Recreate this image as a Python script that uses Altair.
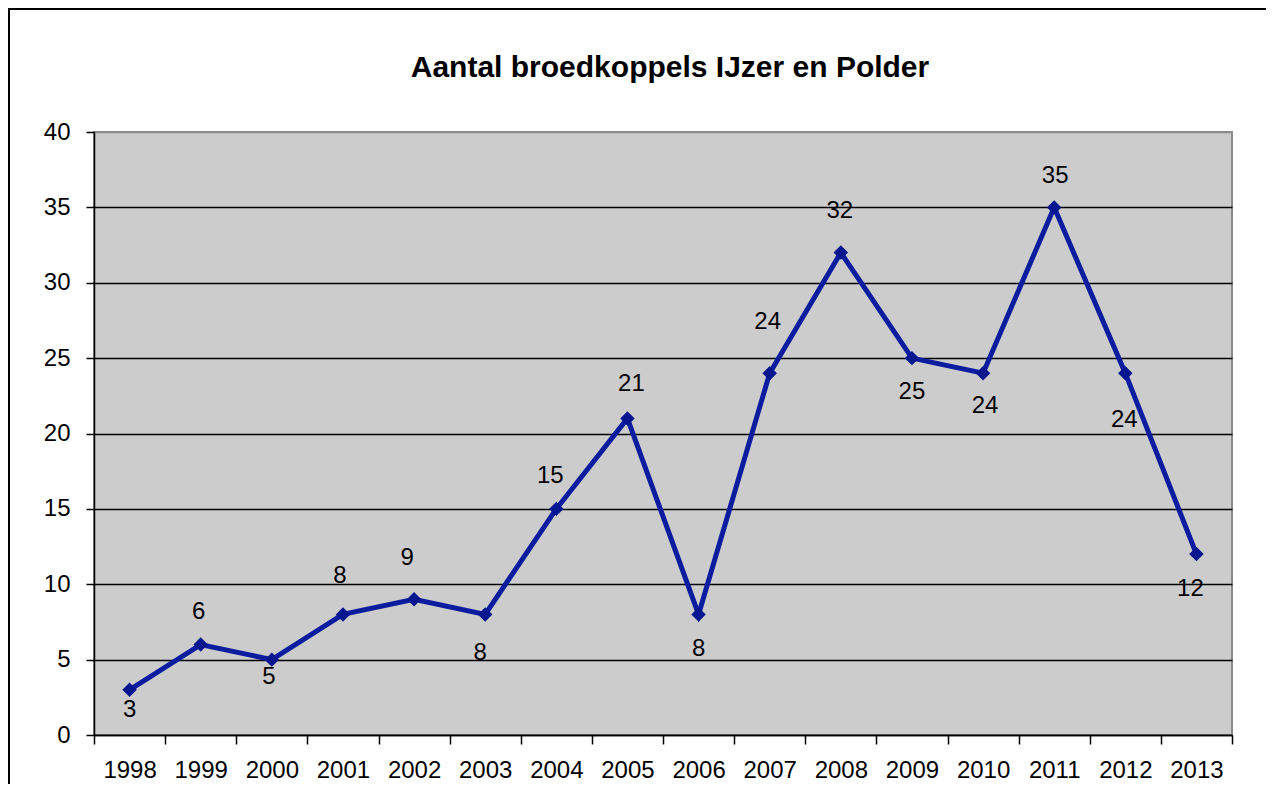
import altair as alt
import pandas as pd

# ---- data ----
years = ["1998", "1999", "2000", "2001", "2002", "2003", "2004", "2005",
         "2006", "2007", "2008", "2009", "2010", "2011", "2012", "2013"]
values = [3, 6, 5, 8, 9, 8, 15, 21, 8, 24, 32, 25, 24, 35, 24, 12]
y_ticks = [0, 5, 10, 15, 20, 25, 30, 35, 40]
title_text = "Aantal broedkoppels IJzer en Polder"

df = pd.DataFrame({"year": years, "value": values})

# ---- styling / layout (label nudges as in the reference, in px) ----
label_nudge = {
    "1998": (0, 20), "1999": (-2, -33), "2000": (-3, 17), "2001": (-3, -38),
    "2002": (-7, -41), "2003": (-5, 39), "2004": (-6, -33), "2005": (4, -34),
    "2006": (0, 35), "2007": (-2, -51), "2008": (-1, -42), "2009": (0, 34),
    "2010": (2, 33), "2011": (1, -31), "2012": (-1, 47), "2013": (-6, 35),
}
FONT = "Liberation Sans"
LINE_COLOR = "#0B1D9E"
MARK_COLOR = "#06168F"
PLOT_W, PLOT_H = 1138, 603
PAD = {"left": 86, "top": 124, "right": 34, "bottom": 49}

x_enc = alt.X(
    "year:O",
    sort=years,
    bandPosition=0.5,
    scale=alt.Scale(type="band", paddingInner=0, paddingOuter=0),
    axis=alt.Axis(
        title=None, labelAngle=0, tickBand="extent", grid=False,
        domainColor="black", domainWidth=1.5, tickColor="black", tickWidth=1.5,
        tickSize=9, labelFontSize=24, labelFont=FONT, labelColor="black",
        labelPadding=14,
    ),
)
y_enc = alt.Y(
    "value:Q",
    scale=alt.Scale(domain=[0, 40], nice=False),
    axis=alt.Axis(
        title=None, values=y_ticks, grid=True,
        gridColor={"condition": {"test": "datum.value === 40", "value": "#8a8a8a"},
                   "value": "black"},
        gridWidth=1.6,
        domainColor="black", domainWidth=1.5, tickColor="black", tickWidth=1.5,
        tickSize=8, labelFontSize=24, labelFont=FONT, labelColor="black",
        labelPadding=16,
    ),
)

base = alt.Chart(df).encode(x=x_enc, y=y_enc)

line = base.mark_line(color=LINE_COLOR, strokeWidth=5)
points = base.mark_point(shape="diamond", filled=True, size=210,
                         color=MARK_COLOR, opacity=1)

# group the labels by their nudge so each group is one text layer
groups = {}
for yr in years:
    groups.setdefault(label_nudge[yr], []).append(yr)

label_layers = []
for (dx, dy), yrs in groups.items():
    label_layers.append(
        base.transform_filter(alt.FieldOneOfPredicate(field="year", oneOf=yrs))
        .mark_text(dx=dx, dy=dy, fontSize=24, font=FONT, color="black",
                   baseline="middle", align="center")
        .encode(text="value:Q")
    )

# chart-area frame (left and top black border of the Excel chart area)
frame_left = alt.Chart(df).mark_rule(color="black", strokeWidth=2).encode(
    x=alt.value(-PAD["left"] + 1), y=alt.value(-PAD["top"]),
    y2=alt.value(PLOT_H + PAD["bottom"]))
frame_top = alt.Chart(df).mark_rule(color="black", strokeWidth=2).encode(
    x=alt.value(-PAD["left"]), x2=alt.value(PLOT_W + PAD["right"]),
    y=alt.value(-PAD["top"] + 1))

chart = alt.layer(line, points, *label_layers, frame_left, frame_top).properties(
    width=PLOT_W, height=PLOT_H,
    title=alt.TitleParams(title_text, fontSize=30, font=FONT, fontWeight="bold",
                          color="black", anchor="middle", frame="group",
                          offset=-76, dx=7),
    autosize=alt.AutoSizeParams(type="none"),
    padding=PAD,
    background="white",
).configure_view(
    fill="#CCCCCC", stroke="#8a8a8a", strokeWidth=2,
)

chart.save("out.html", embed_options={"renderer": "svg", "actions": False})
